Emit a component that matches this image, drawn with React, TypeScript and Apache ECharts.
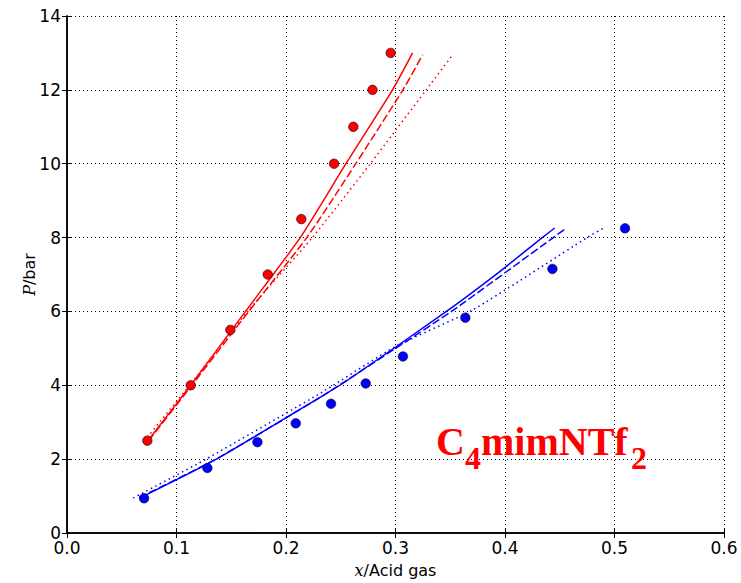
import React, { useEffect, useRef } from "react";
import * as echarts from "echarts";

// Experimental points
const redX = [0.0734, 0.113, 0.1492, 0.1833, 0.214, 0.2439, 0.2615, 0.279, 0.2956];
const redP = [2.5, 4.0, 5.5, 7.0, 8.5, 10.0, 11.0, 12.0, 13.0];
const blueX = [0.0704, 0.1282, 0.1739, 0.2089, 0.2411, 0.2728, 0.3068, 0.3638, 0.4433, 0.5096];
const blueP = [0.94, 1.76, 2.46, 2.97, 3.5, 4.05, 4.78, 5.83, 7.15, 8.25];

// Model curves (red)
const redSolidX = [0.0733, 0.113, 0.163, 0.213, 0.2547, 0.2973, 0.3156];
const redSolidP = [2.48, 4, 6, 8, 10, 12, 13];
const redDashX = [0.0745, 0.114, 0.166, 0.219, 0.2637, 0.3068, 0.3248];
const redDashP = [2.5, 4, 6, 8, 10, 12, 12.95];
const redDotX = [0.0735, 0.112, 0.165, 0.224, 0.277, 0.328, 0.3528];
const redDotP = [2.6, 4, 6, 8, 10, 12, 12.97];

// Model curves (blue)
const blueSolidX = [0.068, 0.1364, 0.2353, 0.2569, 0.3465, 0.3952, 0.4341, 0.4454];
const blueSolidP = [0.97, 2.0, 3.75, 4.15, 6.0, 7.08, 8.0, 8.26];
const blueDashX = [0.066, 0.136, 0.2353, 0.3, 0.3511, 0.4441, 0.4563];
const blueDashP = [0.96, 2.0, 3.75, 5.0, 6.0, 8.0, 8.26];
const blueDotX = [0.0605, 0.127, 0.235, 0.3, 0.371, 0.475, 0.4904];
const blueDotP = [0.95, 2.0, 3.85, 5.05, 6.05, 8.0, 8.26];

const RED = "#ff0000";
const BLUE = "#0000ff";

const zip = (xs: number[], ys: number[]) => xs.map((x, i) => [x, ys[i]]);

const lineSeries = (xs: number[], ys: number[], color: string, type: any) => ({
  type: "line",
  data: zip(xs, ys),
  showSymbol: false,
  symbol: "none",
  smooth: 0.2,
  lineStyle: { color, width: 1.5, type },
  z: 2,
});

const scatterSeries = (xs: number[], ys: number[], color: string) => ({
  type: "scatter",
  data: zip(xs, ys),
  symbol: "circle",
  symbolSize: 9.5,
  itemStyle: { color, opacity: 1, borderColor: "#000", borderWidth: 0.6 },
  z: 3,
});

const tickFont = { fontFamily: "DejaVu Sans", fontSize: 17, color: "#000", lineHeight: 14 };

export default function App() {
  const ref = useRef<HTMLDivElement>(null);
  useEffect(() => {
    if (!ref.current) return;
    const chart = echarts.init(ref.current, undefined, { renderer: "svg" });
    const mainFont = 'bold 40px "Liberation Serif", "Times New Roman", serif';
    const subFont = 'bold 32px "Liberation Serif", "Times New Roman", serif';
    chart.setOption({
      animation: false,
      backgroundColor: "#fff",
      grid: { left: 67, right: 17, top: 16, bottom: 49.5, containLabel: false },
      xAxis: [
        {
          type: "value",
          min: 0,
          max: 0.6,
          interval: 0.1,
          position: "bottom",
          axisLine: { show: true, lineStyle: { color: "#000", width: 1.5 } },
          axisTick: { show: true, inside: true, length: 5, lineStyle: { color: "#000" } },
          axisLabel: { ...tickFont, margin: 8, formatter: (v: number) => v.toFixed(1) },
          splitLine: { show: true, lineStyle: { color: "#000", width: 1, type: [1, 3] } },
          name: "{i|x}/Acid gas",
          nameLocation: "middle",
          nameGap: 29,
          nameMoveOverlap: false,
          nameTextStyle: {
            fontFamily: "DejaVu Sans",
            fontSize: 16,
            color: "#000",
            rich: { i: { fontFamily: "DejaVu Serif", fontStyle: "italic", fontSize: 16, color: "#000" } },
          },
        },
        {
          type: "value",
          min: 0,
          max: 0.6,
          interval: 0.1,
          position: "top",
          axisLine: { show: true, lineStyle: { color: "#000", width: 1.5 } },
          axisTick: { show: true, inside: true, length: 5, lineStyle: { color: "#000" } },
          axisLabel: { show: false },
          splitLine: { show: false },
        },
      ],
      yAxis: [
        {
          type: "value",
          min: 0,
          max: 14,
          interval: 2,
          position: "left",
          axisLine: { show: true, lineStyle: { color: "#000", width: 1.5 } },
          axisTick: { show: true, inside: true, length: 5, lineStyle: { color: "#000" } },
          axisLabel: { ...tickFont, margin: 6 },
          splitLine: { show: true, lineStyle: { color: "#000", width: 1, type: [1, 3] } },
          name: "{i|P}/bar",
          nameLocation: "middle",
          nameGap: 30,
          nameMoveOverlap: false,
          nameRotate: 90,
          nameTextStyle: {
            fontFamily: "DejaVu Sans",
            fontSize: 16,
            color: "#000",
            rich: { i: { fontFamily: "DejaVu Serif", fontStyle: "italic", fontSize: 16, color: "#000" } },
          },
        },
        {
          type: "value",
          min: 0,
          max: 14,
          interval: 2,
          position: "right",
          axisLine: { show: true, lineStyle: { color: "#000", width: 1.5 } },
          axisTick: { show: true, inside: true, length: 5, lineStyle: { color: "#000" } },
          axisLabel: { show: false },
          splitLine: { show: false },
        },
      ],
      series: [
        lineSeries(redSolidX, redSolidP, RED, "solid"),
        lineSeries(redDashX, redDashP, RED, [8, 3]),
        lineSeries(redDotX, redDotP, RED, [1.5, 3.5]),
        lineSeries(blueSolidX, blueSolidP, BLUE, "solid"),
        lineSeries(blueDashX, blueDashP, BLUE, [8, 3]),
        lineSeries(blueDotX, blueDotP, BLUE, [1.5, 3.5]),
        scatterSeries(redX, redP, RED),
        scatterSeries(blueX, blueP, BLUE),
      ],
      graphic: [
        { type: "text", x: 436, y: 441, z: 10, style: { text: "C", font: mainFont, fill: RED, verticalAlign: "middle" } },
        { type: "text", x: 465, y: 457.5, z: 10, style: { text: "4", font: subFont, fill: RED, verticalAlign: "middle" } },
        { type: "text", x: 481, y: 441, z: 10, style: { text: "mimNTf", font: mainFont, fill: RED, verticalAlign: "middle" } },
        { type: "text", x: 631, y: 457.5, z: 10, style: { text: "2", font: subFont, fill: RED, verticalAlign: "middle" } },
      ],
    });
    return () => chart.dispose();
  }, []);
  return (
    <div
      ref={ref}
      style={{ position: "fixed", left: 0, top: 0, width: 741, height: 583, background: "#fff" }}
    />
  );
}
